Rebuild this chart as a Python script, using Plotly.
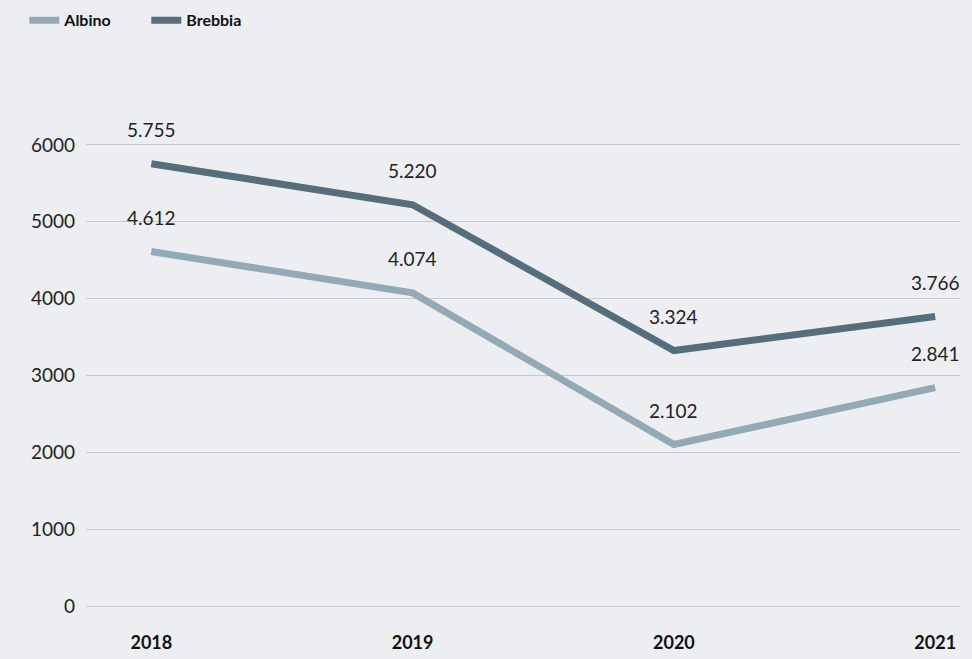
import plotly.graph_objects as go

years = ["2018", "2019", "2020", "2021"]
albino = [4612, 4074, 2102, 2841]
brebbia = [5755, 5220, 3324, 3766]
y_ticks = [0, 1000, 2000, 3000, 4000, 5000, 6000]

def fmt(v):
    return f"{v:,}".replace(",", ".")

x_idx = list(range(len(years)))
series = [("Albino", albino, "#93aab6"), ("Brebbia", brebbia, "#566e7c")]

fig = go.Figure()
for name, vals, col in series:
    fig.add_trace(go.Scatter(
        x=x_idx, y=vals, name=name, mode="lines",
        line=dict(color=col, width=7),
        hoverinfo="skip",
    ))

annotations = []
for name, vals, col in series:
    for xi, v in zip(x_idx, vals):
        annotations.append(dict(
            x=xi, y=v, text=fmt(v), showarrow=False, yshift=34,
            font=dict(family="Lato, sans-serif", size=19, color="#222222"),
        ))

fig.update_layout(
    width=972, height=659,
    paper_bgcolor="#eceef2", plot_bgcolor="#eceef2",
    margin=dict(l=86, r=12, t=68, b=53, autoexpand=False),
    font=dict(family="Lato, sans-serif", color="#222222"),
    showlegend=True,
    legend=dict(
        orientation="h", x=0.025, y=0.995, xref="container", yref="container",
        xanchor="left", yanchor="top",
        font=dict(size=16, color="#111111", family="Lato, sans-serif", weight="bold"),
        itemwidth=30, entrywidth=77, entrywidthmode="pixels",
        bgcolor="rgba(0,0,0,0)",
    ),
    annotations=annotations,
    xaxis=dict(
        tickvals=x_idx, ticktext=years, range=[-0.25, 3.095],
        showgrid=False, zeroline=False, showline=False,
        tickfont=dict(size=18, color="#111111", family="Lato, sans-serif", weight="bold"),
        ticklabelstandoff=24,
    ),
    yaxis=dict(
        tickvals=y_ticks, ticktext=[str(t) for t in y_ticks], range=[0, 7000],
        showgrid=True, gridcolor="#c8c9cc", gridwidth=1,
        zeroline=True, zerolinecolor="#c8c9cc", zerolinewidth=1,
        showline=False,
        tickfont=dict(size=19, color="#222222", family="Lato, sans-serif"),
        ticklabelstandoff=10,
    ),
)

fig.write_html(
    "out.html",
    config={"displayModeBar": False},
    post_script="document.body.style.margin='0';document.body.style.background='#eceef2';",
)
